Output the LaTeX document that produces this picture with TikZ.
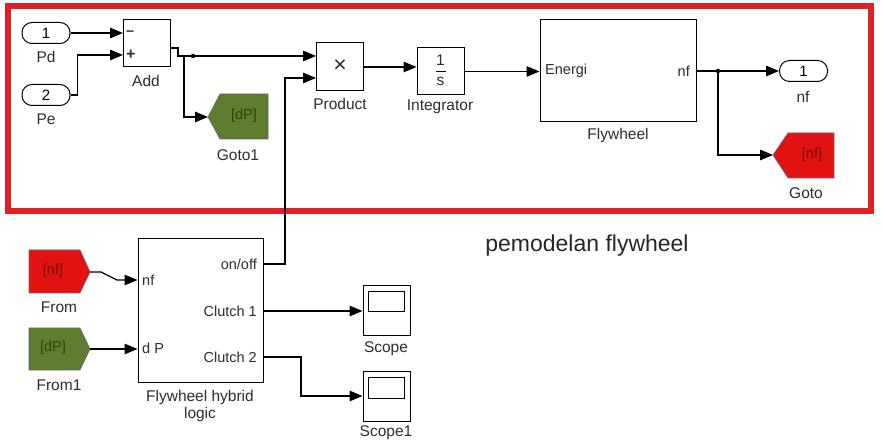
\documentclass[tikz,border=0pt]{standalone}
\usepackage{fontspec}
\setmainfont{Liberation Sans}
\usetikzlibrary{arrows.meta,calc}
\definecolor{frame}{RGB}{226,30,38}
\definecolor{gofill}{RGB}{94,125,47}
\definecolor{gotext}{RGB}{40,70,12}
\definecolor{redfill}{RGB}{226,18,18}
\definecolor{redtext}{RGB}{120,10,10}
\definecolor{lbl}{RGB}{45,45,45}
\tikzset{
  wire/.style={line width=1.3pt, draw=black},
  arr/.style={wire, -{Triangle[length=13pt,width=10.5pt]}},
  blk/.style={draw=black, line width=1pt, fill=white, inner sep=0pt},
  port/.style={blk, rounded corners=10pt, minimum width=48pt, minimum height=21pt, font=\fontsize{15}{15}\selectfont},
  lab/.style={inner sep=0pt, text=lbl, font=\fontsize{15.5}{15.5}\selectfont},
  plab/.style={inner sep=0pt, text=lbl, font=\fontsize{14.5}{14.5}\selectfont},
  tag/.style={inner sep=0pt, font=\fontsize{14.5}{14.5}\selectfont},
  dot/.style={circle, fill=black, inner sep=0pt, minimum size=4.5pt},
}
\begin{document}
\begin{tikzpicture}[x=1pt,y=-1pt]
\useasboundingbox (0,0) rectangle (883,443);
% red frame
\draw[frame, line width=6pt] (8,6) rectangle (871,211);

% ---------- top section ----------
\node[port] (inPd) at (46,33) {1};
\node[lab] (lPd) at (46,57) {Pd};
\node[port] (inPe) at (46,95) {2};
\node[lab] (lPe) at (46,119) {Pe};

\node[blk, minimum width=47pt, minimum height=47pt] (add) at (146.5,43.5) {};
\node[plab, anchor=west] (addm) at (126,33) {\textbf{--}};
\node[plab, anchor=west, font=\fontsize{16}{16}\selectfont\bfseries] (addp) at (126,55) {+};
\node[lab] (lAdd) at (146,81) {Add};
\coordinate (addin1) at (123,33);
\coordinate (addin2) at (123,55);
\coordinate (addout) at (170,48);

% Goto1 (green)
\fill[gofill, draw=black!60, line width=0.6pt] (208,117) -- (220,94) -- (268,94) -- (268,139) -- (220,139) -- cycle;
\node[tag, text=gotext] (goto1) at (244,116) {[dP]};
\coordinate (goto1in) at (208,117);
\node[lab] (lGoto1) at (238,155) {Goto1};

\node[blk, minimum width=47pt, minimum height=48pt] (prod) at (339.5,67) {};
\node[inner sep=0pt, font=\fontsize{23}{23}\selectfont, text=lbl] (times) at (340,66) {×};
\node[lab] (lProd) at (340,104) {Product};
\coordinate (prodin1) at (316,56);
\coordinate (prodin2) at (316,78);

\node[blk, minimum width=47pt, minimum height=47pt] (integ) at (440.5,71.5) {};
\node[plab, font=\fontsize{15.5}{15.5}\selectfont] (inum) at (440.5,60) {1};
\node[plab, font=\fontsize{15.5}{15.5}\selectfont] (iden) at (440.5,81) {s};
\draw[line width=0.9pt] (435.5,71) -- (445.5,71);
\node[lab] (lInteg) at (440,107) {Integrator};

\node[blk, minimum width=156pt, minimum height=102pt] (fly) at (618,71) {};
\node[plab, anchor=west] (fEn) at (545,71) {Energi};
\node[plab, anchor=east] (fNf) at (690,71) {nf};
\node[lab] (lFly) at (618,135) {Flywheel};

\node[port] (outnf) at (803.5,71) {1};
\node[lab] (lOutnf) at (803,97) {nf};

% Goto (red)
\fill[redfill, draw=black!60, line width=0.6pt] (773,155) -- (788,133) -- (834,133) -- (834,178) -- (788,178) -- cycle;
\node[tag, text=redtext] (goto) at (812,155) {[nf]};
\coordinate (gotoin) at (773,155);
\node[lab] (lGoto) at (806,193) {Goto};

% connectors top
\draw[arr] (inPd.east |- addin1) -- (addin1);
\draw[arr] (inPe.east) -- ++(7,0) |- (addin2);
\draw[arr] (addout) -- (178,48) -- (178,56) -- (prodin1);
\draw[arr] (184,56) |- (goto1in);
\node[dot] (d1) at (193,56) {};
\draw[arr] (prod.east) -- (integ.west |- prod.east);
\draw[arr] (integ.east) -- (fly.west |- integ.east);
\draw[arr] (fly.east) -- (outnf.west);
\node[dot] (d2) at (718,71) {};
\draw[arr] (d2.center) |- (gotoin);

% ---------- bottom section ----------
\node[font=\fontsize{23}{23}\selectfont, inner sep=0pt, text=black!85] (title) at (587,246) {pemodelan flywheel};

% From (red)
\fill[redfill, draw=black!60, line width=0.6pt] (29,250) -- (80,250) -- (90,272) -- (80,293) -- (29,293) -- cycle;
\node[tag, text=redtext] (from) at (53,271) {[nf]};
\coordinate (fromout) at (90,272);
\node[lab] (lFrom) at (59,307) {From};

% From1 (green)
\fill[gofill, draw=black!60, line width=0.6pt] (29,328) -- (80,328) -- (90,349) -- (80,370) -- (29,370) -- cycle;
\node[tag, text=gotext] (from1) at (53,348) {[dP]};
\coordinate (from1out) at (90,349);
\node[lab] (lFrom1) at (59,385) {From1};

% hybrid logic
\node[blk, minimum width=125pt, minimum height=143pt] (hyb) at (200.5,310.5) {};
\node[plab, anchor=west] (hnf) at (142,280) {nf};
\node[plab, anchor=west] (hdp) at (142,348) {d P};
\node[plab, anchor=east] (hon) at (257,264) {on/off};
\node[plab, anchor=east] (hc1) at (257,311) {Clutch 1};
\node[plab, anchor=east] (hc2) at (257,357) {Clutch 2};
\node[lab] (lHyb1) at (200,397) {Flywheel hybrid};
\node[lab] (lHyb2) at (200,414) {logic};

% scopes
\node[blk, minimum width=47pt, minimum height=50pt] (scope) at (386.5,311) {};
\draw[line width=1pt] (368,292) rectangle (404,312);
\node[lab] (lScope) at (386,349) {Scope};
\node[blk, minimum width=47pt, minimum height=50pt] (scope1) at (386.5,396) {};
\draw[line width=1pt] (368,377) rectangle (404,398);
\node[lab] (lScope1) at (386,433) {Scope1};

% connectors bottom
\draw[arr] (fromout) -- (101,272) -- (117,280) -- (hyb.west |- hnf);
\draw[arr] (from1out) -- (hyb.west |- from1out);
\draw[arr] (hyb.east |- hon) -- (285,264) -- (285,78) -- (prodin2);
\draw[arr] (hyb.east |- scope.west) -- (scope.west);
\draw[arr] (hyb.east |- hc2) -- (301,357) |- (scope1.west);
\end{tikzpicture}
\end{document}
